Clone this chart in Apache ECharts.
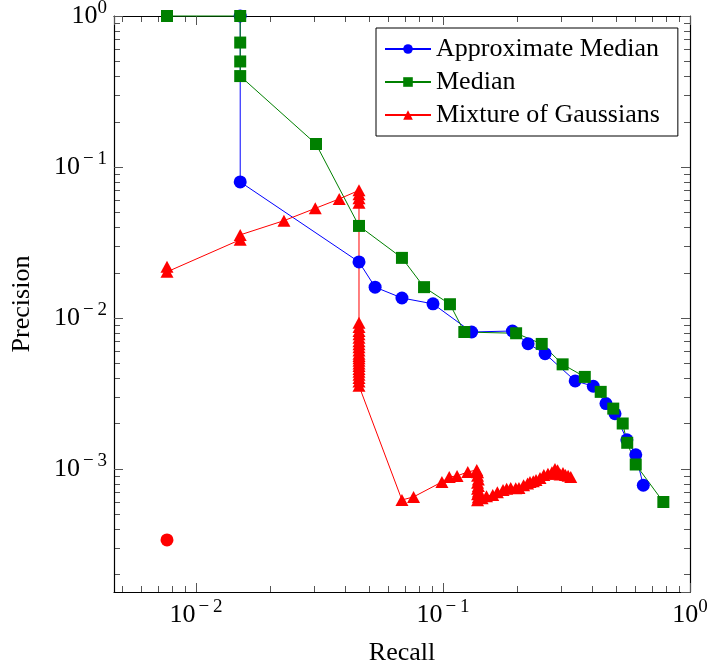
<!DOCTYPE html>
<html>
<head>
<meta charset="utf-8">
<script src="https://cdn.jsdelivr.net/npm/echarts@6/dist/echarts.min.js"></script>
<style>
  html, body { margin: 0; padding: 0; background: #fff; }
  #chart { width: 707px; height: 667px; }
</style>
</head>
<body>
<div id="chart"></div>
<script>
// Axis ranges (log scale)
const recallMin = 0.004656;
const recallMax = 1;
const precisionMin = 0.0001531;
const precisionMax = 1;

const seriesNames = ['Approximate Median', 'Median', 'Mixture of Gaussians'];

// Approximate Median
const approxRecall = [0.0151, 0.0151, 0.0457, 0.0531, 0.0682, 0.0911, 0.1306, 0.191, 0.221, 0.259, 0.343, 0.406, 0.457, 0.497, 0.555, 0.603, 0.647];
const approxPrecision = [1, 0.0796, 0.0235, 0.0160, 0.01356, 0.0124, 0.00807, 0.0082, 0.00676, 0.00580, 0.00383, 0.00353, 0.00271, 0.00232, 0.00156, 0.00124, 0.00078];

// Median
const medianRecall = [0.00763, 0.0151, 0.0151, 0.0151, 0.0151, 0.0306, 0.0457, 0.0682, 0.0838, 0.1067, 0.122, 0.1977, 0.251, 0.305, 0.375, 0.435, 0.489, 0.534, 0.557, 0.603, 0.780];
const medianPrecision = [1, 1, 0.667, 0.5, 0.4, 0.142, 0.0407, 0.0250, 0.0160, 0.01233, 0.00807, 0.00792, 0.00673, 0.00493, 0.00407, 0.00324, 0.00251, 0.00200, 0.00149, 0.00107, 0.000604];

// Mixture of Gaussians
const mogRecall = [
  0.00763, 0.00763, 0.0151, 0.0151, 0.0227, 0.0304, 0.0380,
  0.0457, 0.0457, 0.0457, 0.0457,
  0.0457, 0.0457, 0.0457, 0.0457, 0.0457, 0.0457, 0.0457, 0.0457, 0.0457, 0.0457,
  0.0457, 0.0457, 0.0457, 0.0457, 0.0457, 0.0457, 0.0457, 0.0457, 0.0457, 0.0457, 0.0457,
  0.0682, 0.0760, 0.0990, 0.1060, 0.1140, 0.1260, 0.1370,
  0.1380, 0.1380, 0.1390, 0.1380, 0.1390, 0.1380, 0.1390, 0.1380, 0.1390, 0.1380,
  0.1440, 0.1500, 0.1590, 0.1660, 0.1750, 0.1810, 0.1880, 0.1970, 0.2030, 0.2120,
  0.2200, 0.2250, 0.2320, 0.2380, 0.2470, 0.2560, 0.2660, 0.2760, 0.2840, 0.2870,
  0.2910, 0.2980, 0.3060, 0.3130, 0.3210, 0.3290
];
const mogPrecision = [
  0.0218, 0.0202, 0.0330, 0.0355, 0.0441, 0.0532, 0.0614,
  0.0700, 0.0660, 0.0620, 0.0580,
  0.0093, 0.0087, 0.0082, 0.0078, 0.0074, 0.0070, 0.0067, 0.0064, 0.0061, 0.0058,
  0.0056, 0.0054, 0.0052, 0.0050, 0.0048, 0.0046, 0.0044, 0.0042, 0.0040, 0.0038, 0.00355,
  0.000623, 0.000653, 0.00082, 0.000885, 0.000899, 0.000955, 0.000985,
  0.00095, 0.00090, 0.00085, 0.00081, 0.00077, 0.00074, 0.00071, 0.00068, 0.00065, 0.00062,
  0.00064, 0.00066, 0.000673, 0.00070, 0.000726, 0.00074, 0.000748, 0.000745, 0.000748, 0.00078,
  0.00080, 0.00082, 0.00083, 0.000846, 0.00087, 0.000912, 0.00093, 0.00095, 0.00100, 0.00093,
  0.00098, 0.00092, 0.00094, 0.000912, 0.00090, 0.000885
];

// Single outlier point
const outlierRecall = [0.00763];
const outlierPrecision = [0.000339];

const zip = (xs, ys) => xs.map((x, i) => [x, ys[i]]);

const serif = 'Liberation Serif, Times New Roman, serif';
const frameColor = '#000';
const tickColor = '#555';

function powerLabel(v) {
  const e = Math.round(Math.log10(v));
  if (e < 0) return '{b|10}{s|\u2212\u2009' + (-e) + '}';
  return '{b|10}{p|' + e + '}';
}

const labelRich = {
  b: { fontFamily: serif, fontSize: 26, color: '#000' },
  s: { fontFamily: serif, fontSize: 19, color: '#000', padding: [0, 0, 16, 3] },
  p: { fontFamily: serif, fontSize: 19, color: '#000', padding: [0, 0, 16, 0] }
};

function makeAxis(kind, position, main) {
  const isX = kind === 'x';
  const ax = {
    type: 'log',
    logBase: 10,
    position: position,
    min: isX ? recallMin : precisionMin,
    max: isX ? recallMax : precisionMax,
    axisLine: { show: true, onZero: false, lineStyle: { color: frameColor, width: 1.2 } },
    axisTick: { show: true, inside: true, length: 9, lineStyle: { color: tickColor, width: 1 } },
    splitLine: { show: false },
    minorTick: { show: false },
    axisLabel: { show: false }
  };
  if (main) {
    ax.axisLabel = {
      show: true,
      margin: isX ? 6 : 7,
      showMinLabel: false,
      showMaxLabel: true,
      formatter: powerLabel,
      rich: labelRich
    };
    ax.name = isX ? 'Recall' : 'Precision';
    ax.nameLocation = 'middle';
    ax.nameGap = isX ? 48 : 79;
    ax.nameTextStyle = { fontFamily: serif, fontSize: 26, color: '#000' };
  }
  return ax;
}

const lineDefaults = {
  type: 'line',
  showSymbol: true,
  showAllSymbol: true,
  clip: false,
  animation: false
};

const chart = echarts.init(document.getElementById('chart'), null, { renderer: 'canvas' });

chart.setOption({
  animation: false,
  backgroundColor: '#fff',
  grid: { left: 114, right: 17, top: 16, bottom: 75, containLabel: false, outerBoundsMode: 'none' },
  xAxis: [makeAxis('x', 'bottom', true), makeAxis('x', 'top', false)],
  yAxis: [makeAxis('y', 'left', true), makeAxis('y', 'right', false)],
  legend: {
    data: seriesNames,
    orient: 'vertical',
    left: 376,
    top: 28,
    padding: [6, 18, 6, 8],
    itemGap: 3,
    itemWidth: 46,
    itemHeight: 12,
    borderColor: '#000',
    borderWidth: 1,
    backgroundColor: '#fff',
    textStyle: { fontFamily: serif, fontSize: 26, color: '#000', lineHeight: 30 }
  },
  series: [
    Object.assign({}, lineDefaults, {
      name: seriesNames[0],
      data: zip(approxRecall, approxPrecision),
      symbol: 'circle',
      symbolSize: 13,
      itemStyle: { color: '#0000ff' },
      lineStyle: { color: '#0000ff', width: 1 }
    }),
    Object.assign({}, lineDefaults, {
      name: seriesNames[1],
      data: zip(medianRecall, medianPrecision),
      symbol: 'rect',
      symbolSize: 12,
      itemStyle: { color: '#008000' },
      lineStyle: { color: '#008000', width: 1 }
    }),
    Object.assign({}, lineDefaults, {
      name: seriesNames[2],
      data: zip(mogRecall, mogPrecision),
      symbol: 'triangle',
      symbolSize: [13, 12],
      itemStyle: { color: '#ff0000' },
      lineStyle: { color: '#ff0000', width: 1 }
    }),
    {
      type: 'scatter',
      name: 'outlier',
      data: zip(outlierRecall, outlierPrecision),
      symbol: 'circle',
      symbolSize: 13,
      itemStyle: { color: '#ff0000', opacity: 1 },
      clip: false,
      animation: false
    }
  ]
});

// Minor ticks (2..9 within each decade) on all four sides of the frame
function drawMinorTicks() {
  const px = v => chart.convertToPixel({ xAxisIndex: 0 }, v);
  const py = v => chart.convertToPixel({ yAxisIndex: 0 }, v);
  const left = px(recallMin), right = px(recallMax);
  const top = py(precisionMax), bottom = py(precisionMin);
  const len = 6;
  const elements = [];
  const style = { stroke: tickColor, lineWidth: 1 };
  for (let e = -3; e <= -1; e++) {
    for (let m = 2; m <= 9; m++) {
      const v = m * Math.pow(10, e);
      if (v <= recallMin || v >= recallMax) continue;
      const x = Math.round(px(v)) + 0.5;
      elements.push({ type: 'line', silent: true, shape: { x1: x, y1: bottom, x2: x, y2: bottom - len }, style });
      elements.push({ type: 'line', silent: true, shape: { x1: x, y1: top, x2: x, y2: top + len }, style });
    }
  }
  for (let e = -4; e <= -1; e++) {
    for (let m = 2; m <= 9; m++) {
      const v = m * Math.pow(10, e);
      if (v <= precisionMin || v >= precisionMax) continue;
      const y = Math.round(py(v)) + 0.5;
      elements.push({ type: 'line', silent: true, shape: { x1: left, y1: y, x2: left + len, y2: y }, style });
      elements.push({ type: 'line', silent: true, shape: { x1: right, y1: y, x2: right - len, y2: y }, style });
    }
  }
  chart.setOption({ graphic: { elements: elements } });
}
drawMinorTicks();
</script>
</body>
</html>
